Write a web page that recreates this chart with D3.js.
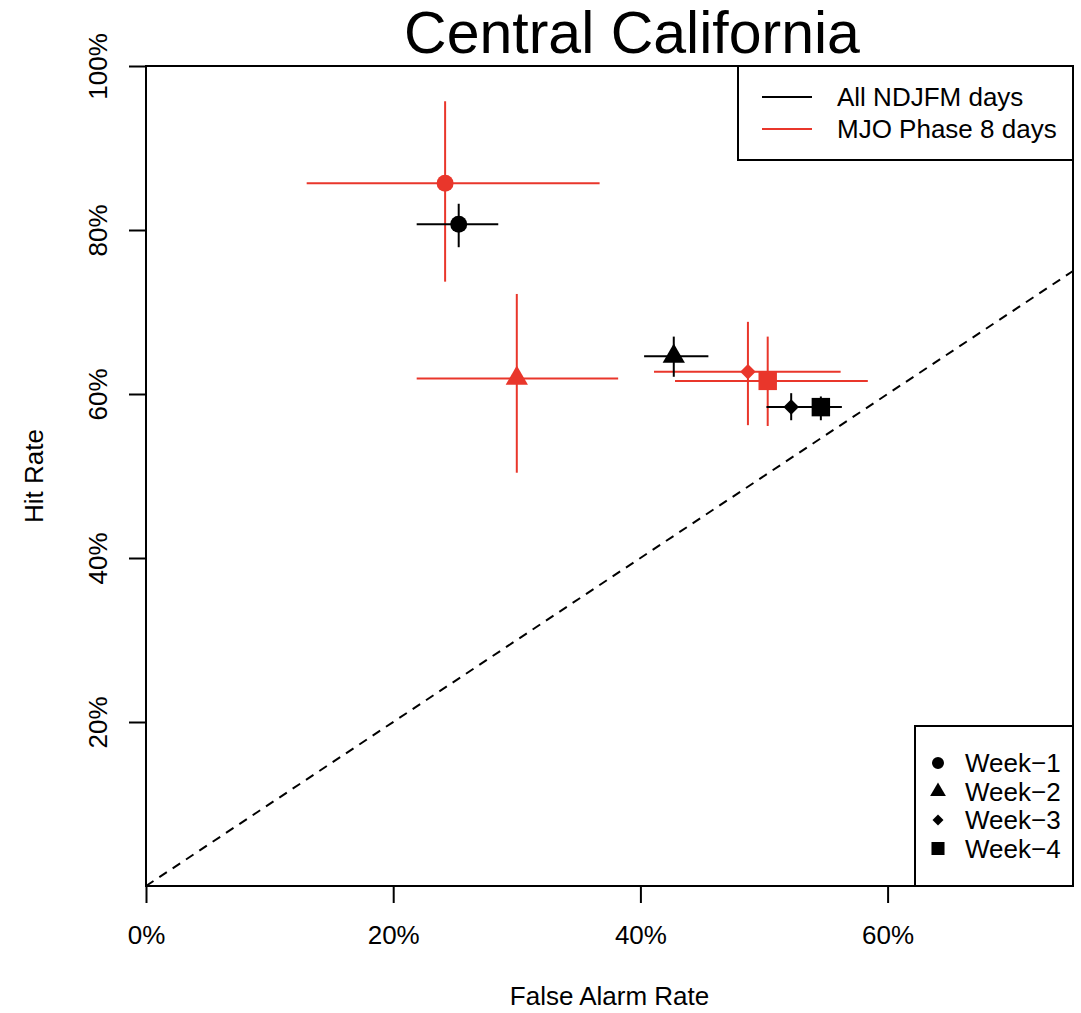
<!DOCTYPE html>
<html>
<head>
<meta charset="utf-8">
<title>Central California</title>
<script src="https://d3js.org/d3.v7.min.js"></script>
<style>
  body { margin: 0; background: white; }
  svg { display: block; font-family: "Liberation Sans", Arial, sans-serif; }
</style>
</head>
<body>
<div id="chart"></div>
<script>
// data
var weeks = ["Week\u22121", "Week\u22122", "Week\u22123", "Week\u22124"];
var shapes = ["circle", "triangle", "diamond", "square"];

// All NDJFM days (black)
var allFar   = [0.253, 0.427, 0.522, 0.546];
var allFarLo = [0.219, 0.403, 0.502, 0.527];
var allFarHi = [0.285, 0.455, 0.542, 0.563];
var allHit   = [0.807, 0.646, 0.584, 0.584];
var allHitLo = [0.779, 0.621, 0.568, 0.568];
var allHitHi = [0.832, 0.670, 0.601, 0.597];

// MJO Phase 8 days (red)
var mjoFar   = [0.242, 0.300, 0.487, 0.503];
var mjoFarLo = [0.130, 0.219, 0.411, 0.428];
var mjoFarHi = [0.367, 0.382, 0.562, 0.584];
var mjoHit   = [0.857, 0.619, 0.627, 0.616];
var mjoHitLo = [0.737, 0.504, 0.562, 0.561];
var mjoHitHi = [0.957, 0.722, 0.688, 0.670];

var seriesNames = ["All NDJFM days", "MJO Phase 8 days"];
var xTicks = [0, 0.2, 0.4, 0.6];
var yTicks = [0.2, 0.4, 0.6, 0.8, 1.0];

var red = "#e9362b";
var black = "#000000";

var W = 1081, H = 1013;
// plot region (window.top is reserved, so use other names)
var pLeft = 146, pRight = 1073, pTop = 66, pBottom = 886;

var svg = d3.select("#chart").append("svg")
  .attr("width", W)
  .attr("height", H);

var x = d3.scaleLinear().domain([0, 0.75]).range([pLeft, pRight]);
var y = d3.scaleLinear().domain([0, 1]).range([pBottom, pTop]);

// diamond like R pch 18
var diamondType = {
  draw: function(ctx, size) {
    var r = Math.sqrt(size / 2);
    ctx.moveTo(0, -r); ctx.lineTo(r, 0); ctx.lineTo(0, r); ctx.lineTo(-r, 0); ctx.closePath();
  }
};
var symType = {
  circle: d3.symbolCircle,
  triangle: d3.symbolTriangle,
  diamond: diamondType,
  square: d3.symbolSquare
};
var symSize = { circle: 227, triangle: 215, diamond: 120, square: 340 };

// title
svg.append("text")
  .attr("x", 632).attr("y", 53)
  .attr("text-anchor", "middle")
  .style("font-size", "59px")
  .text("Central California");

// diagonal reference line
svg.append("line")
  .attr("x1", x(0)).attr("y1", y(0))
  .attr("x2", x(0.75)).attr("y2", y(0.75))
  .style("stroke", "#000")
  .style("stroke-width", 2)
  .style("stroke-dasharray", "9,7");

// axes
var xAxis = svg.append("g")
  .attr("transform", "translate(0," + pBottom + ")")
  .call(d3.axisBottom(x).tickValues(xTicks).tickSize(17).tickFormat(d3.format(".0%")));
xAxis.select(".domain").remove();
xAxis.selectAll("line").style("stroke-width", 2);
xAxis.selectAll("text")
  .attr("y", 58).attr("dy", null)
  .style("font-size", "26px")
  .style("font-family", "Liberation Sans, Arial, sans-serif");

var yAxis = svg.append("g")
  .attr("transform", "translate(" + pLeft + ",0)")
  .call(d3.axisLeft(y).tickValues(yTicks).tickSize(17).tickFormat(d3.format(".0%")));
yAxis.select(".domain").remove();
yAxis.selectAll("line").style("stroke-width", 2);
yAxis.selectAll("text")
  .attr("x", null).attr("dy", null)
  .attr("transform", "translate(-39,0) rotate(-90)")
  .attr("text-anchor", "middle")
  .style("font-size", "26px")
  .style("font-family", "Liberation Sans, Arial, sans-serif");

// axis titles
svg.append("text")
  .attr("x", (pLeft + pRight) / 2).attr("y", 1005)
  .attr("text-anchor", "middle")
  .style("font-size", "26px")
  .text("False Alarm Rate");

svg.append("text")
  .attr("transform", "translate(43," + ((pTop + pBottom) / 2) + ") rotate(-90)")
  .attr("text-anchor", "middle")
  .style("font-size", "26px")
  .text("Hit Rate");

// plot box
svg.append("rect")
  .attr("x", pLeft).attr("y", pTop)
  .attr("width", pRight - pLeft).attr("height", pBottom - pTop)
  .style("fill", "none")
  .style("stroke", "#000")
  .style("stroke-width", 2);

function drawSeries(color, far, farLo, farHi, hit, hitLo, hitHi) {
  var g = svg.append("g");
  weeks.forEach(function(w, i) {
    g.append("line")
      .attr("x1", x(farLo[i])).attr("x2", x(farHi[i]))
      .attr("y1", y(hit[i])).attr("y2", y(hit[i]))
      .style("stroke", color).style("stroke-width", 2);
    g.append("line")
      .attr("x1", x(far[i])).attr("x2", x(far[i]))
      .attr("y1", y(hitLo[i])).attr("y2", y(hitHi[i]))
      .style("stroke", color).style("stroke-width", 2);
  });
  weeks.forEach(function(w, i) {
    var s = shapes[i];
    g.append("path")
      .attr("d", d3.symbol().type(symType[s]).size(symSize[s])())
      .attr("transform", "translate(" + x(far[i]) + "," + y(hit[i]) + ")")
      .style("fill", color);
  });
}

drawSeries(red, mjoFar, mjoFarLo, mjoFarHi, mjoHit, mjoHitLo, mjoHitHi);
drawSeries(black, allFar, allFarLo, allFarHi, allHit, allHitLo, allHitHi);

// legend: series
var leg1 = svg.append("g");
leg1.append("rect")
  .attr("x", 738).attr("y", pTop)
  .attr("width", pRight - 738).attr("height", 160 - pTop)
  .style("fill", "white").style("stroke", "#000").style("stroke-width", 2);
[black, red].forEach(function(c, i) {
  leg1.append("line")
    .attr("x1", 762).attr("x2", 812)
    .attr("y1", 97 + i * 32).attr("y2", 97 + i * 32)
    .style("stroke", c).style("stroke-width", 2);
  leg1.append("text")
    .attr("x", 837).attr("y", 106 + i * 32)
    .style("font-size", "26px")
    .text(seriesNames[i]);
});

// legend: weeks
var leg2 = svg.append("g");
leg2.append("rect")
  .attr("x", 915).attr("y", 726)
  .attr("width", pRight - 915).attr("height", pBottom - 726)
  .style("fill", "white").style("stroke", "#000").style("stroke-width", 2);
weeks.forEach(function(w, i) {
  var s = shapes[i];
  var cy = 763 + i * 28.5;
  leg2.append("path")
    .attr("d", d3.symbol().type(symType[s]).size(symSize[s] * 0.5)())
    .attr("transform", "translate(938," + cy + ")")
    .style("fill", "#000");
  leg2.append("text")
    .attr("x", 965).attr("y", cy + 9)
    .style("font-size", "26px")
    .text(w);
});
</script>
</body>
</html>
